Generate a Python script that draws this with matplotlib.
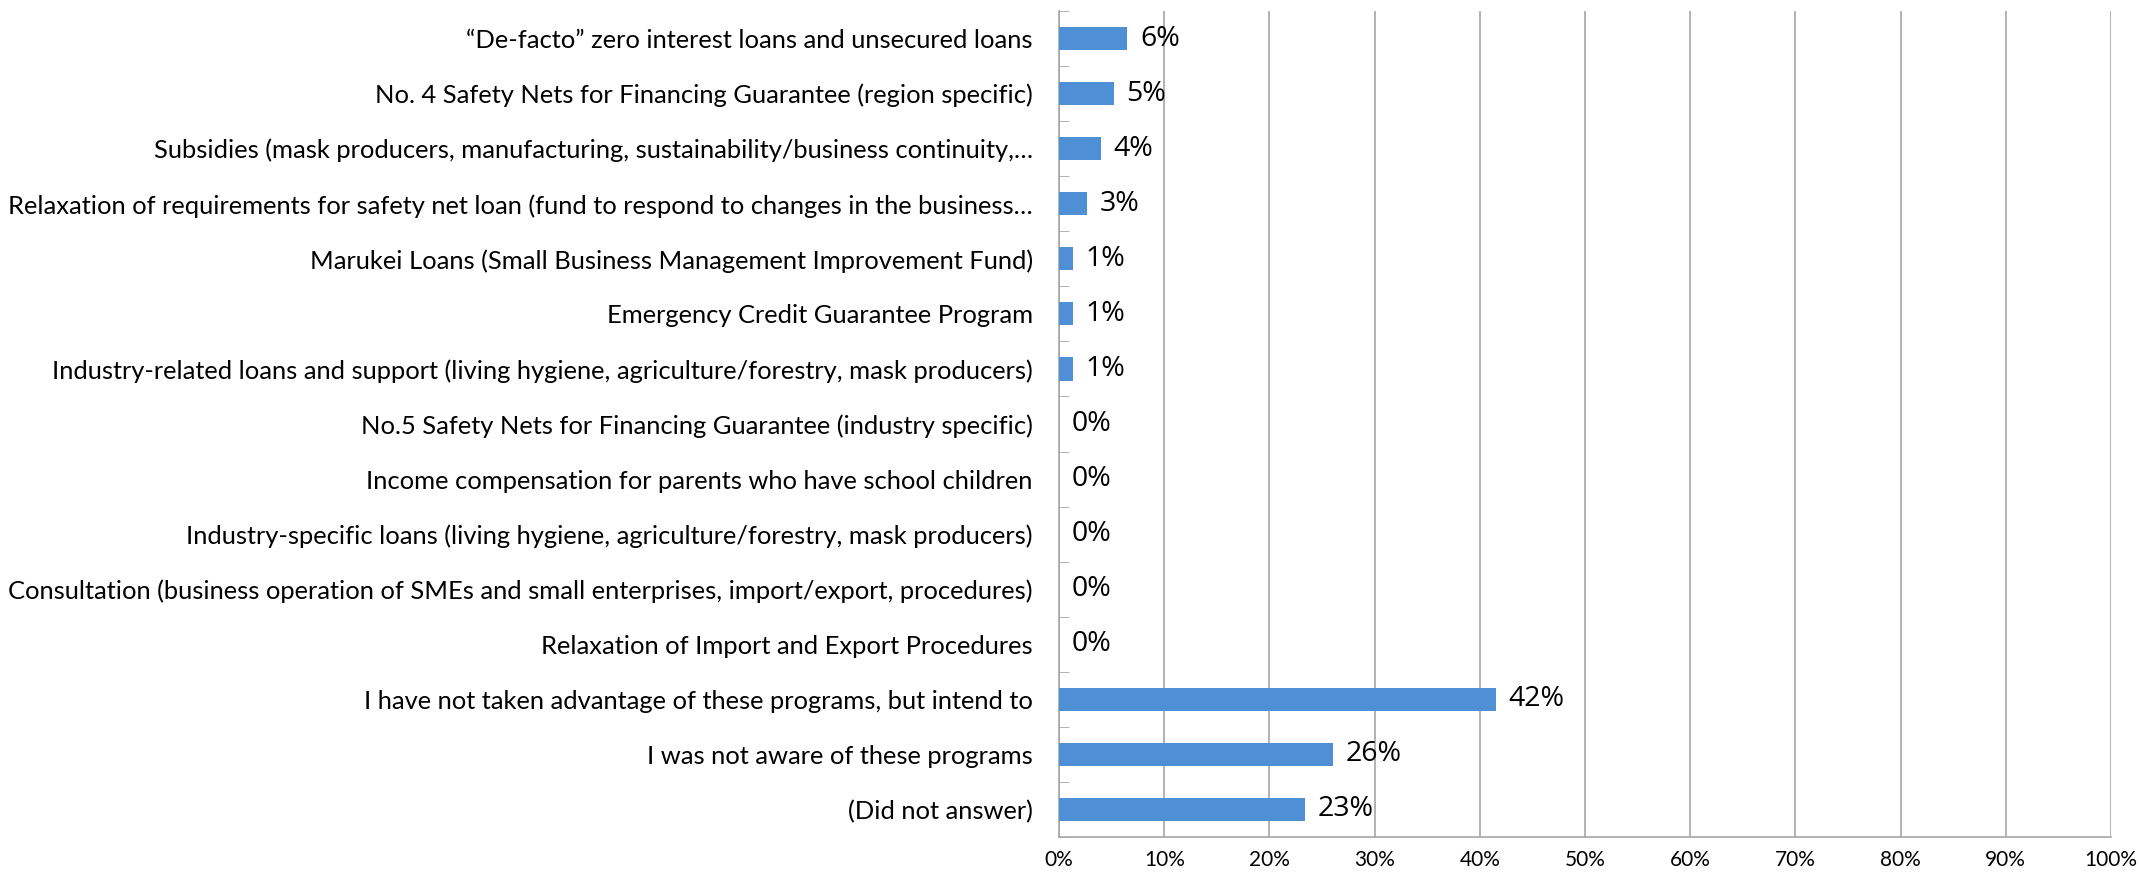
import matplotlib
matplotlib.use('Agg')
import matplotlib.pyplot as plt
import numpy as np
from matplotlib.ticker import FixedLocator, PercentFormatter

# categories from top to bottom
categories = [
    '\u201cDe-facto\u201d zero interest loans and unsecured loans',
    'No. 4 Safety Nets for Financing Guarantee (region specific)',
    'Subsidies (mask producers, manufacturing, sustainability/business continuity,\u2026',
    'Relaxation of requirements for safety net loan (fund to respond to changes in the business\u2026',
    'Marukei Loans (Small Business Management Improvement Fund)',
    'Emergency Credit Guarantee Program',
    'Industry-related loans and support (living hygiene, agriculture/forestry, mask producers)',
    'No.5 Safety Nets for Financing Guarantee (industry specific)',
    'Income compensation for parents who have school children',
    'Industry-specific loans (living hygiene, agriculture/forestry, mask producers)',
    'Consultation (business operation of SMEs and small enterprises, import/export, procedures)',
    'Relaxation of Import and Export Procedures',
    'I have not taken advantage of these programs, but intend to',
    'I was not aware of these programs',
    '(Did not answer)',
]
values = [6.5, 5.2, 4.0, 2.7, 1.3, 1.3, 1.3, 0, 0, 0, 0, 0, 41.5, 26.0, 23.4]
value_labels = ['6%', '5%', '4%', '3%', '1%', '1%', '1%', '0%', '0%', '0%',
                '0%', '0%', '42%', '26%', '23%']
x_ticks = np.arange(0, 101, 10)

label_font = ['Lato', 'DejaVu Sans']
num_font = ['Open Sans', 'DejaVu Sans']

fig = plt.figure(figsize=(21.4, 8.75), dpi=100)
ax = fig.add_axes([0.4949, 0.0434, 0.4915, 0.944])

y = np.arange(len(categories))
ax.barh(y, values, height=0.42, color='#4f8fd6', zorder=3)
for yi, v, lab in zip(y, values, value_labels):
    ax.text(v + 1.2, yi, lab, va='center', ha='left', fontsize=20.5,
            family=num_font, color='black', zorder=4)

ax.set_xlim(0, 100)
ax.set_ylim(len(categories) - 0.5, -0.5)
ax.set_yticks(y)
ax.set_yticklabels(categories, family=label_font, fontsize=16)
ax.yaxis.set_minor_locator(FixedLocator(np.arange(-0.5, len(categories), 1)))
ax.tick_params(axis='y', which='major', length=0, pad=19)
ax.tick_params(axis='y', which='minor', length=7, direction='in', color='#a6a6a6')

# shrink the category labels so the longest fits left of the axis
fig.canvas.draw()
r = fig.canvas.get_renderer()
widest = max(t.get_window_extent(r).width for t in ax.get_yticklabels())
fs = 16 * 1030 / widest
for t in ax.get_yticklabels():
    t.set_fontsize(fs)

ax.set_xticks(x_ticks)
ax.xaxis.set_major_formatter(PercentFormatter(decimals=0))
ax.tick_params(axis='x', length=0, pad=9, labelsize=15)
for t in ax.get_xticklabels():
    t.set_family(label_font)

ax.grid(axis='x', color='#a6a6a6', linewidth=1.2, zorder=0)
for s in ['top', 'right']:
    ax.spines[s].set_visible(False)
for s in ['left', 'bottom']:
    ax.spines[s].set_color('#a6a6a6')
    ax.spines[s].set_linewidth(1.2)

fig.savefig('out.png', dpi=100, facecolor='white')
